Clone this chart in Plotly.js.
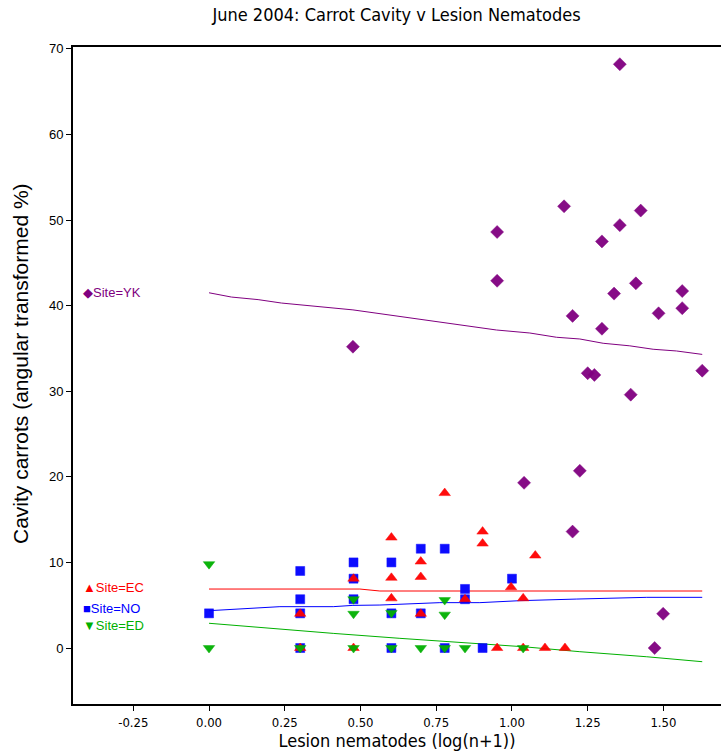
<!DOCTYPE html>
<html>
<head>
<meta charset="utf-8">
<script src="https://cdn.plot.ly/plotly-3.0.1.min.js"></script>
<style>html,body{margin:0;padding:0;background:#fff;}#chart{width:721px;height:751px;}</style>
</head>
<body>
<div id="chart"></div>
<script>
// ---- data ----
const ykX = [1.356,1.172,1.425,1.356,0.951,1.297,0.951,1.409,1.337,1.562,1.562,1.200,1.484,1.297,1.250,1.272,1.628,1.392,0.475,1.224,1.040,1.200,1.499,1.471];
const ykY = [68.2,51.6,51.1,49.4,48.6,47.5,42.9,42.6,41.4,41.7,39.7,38.8,39.1,37.3,32.1,31.9,32.4,29.6,35.2,20.7,19.3,13.6,4.0,0];

const ecX = [0.301,0.301,0.477,0.477,0.602,0.602,0.602,0.699,0.699,0.699,0.778,0.845,0.903,0.903,0.951,0.997,1.037,1.037,1.077,1.109,1.175];
const ecY = [4.0,0,8.1,0,12.9,8.2,5.8,10.1,8.3,4.0,18.1,5.7,13.6,12.2,0,7.1,5.8,0,10.8,0,0];

const noX = [0,0.301,0.301,0.301,0.301,0.477,0.477,0.477,0.602,0.602,0.602,0.699,0.699,0.778,0.778,0.845,0.845,0.903,1.0];
const noY = [4.05,9.0,5.7,4.05,0,10.0,8.1,5.7,10.0,4.05,0,11.6,4.05,11.6,0,6.9,5.7,0,8.1];

const edX = [0,0,0.301,0.477,0.477,0.477,0.602,0.602,0.699,0.778,0.778,0.778,0.845,1.037];
const edY = [9.8,0,0,5.7,4.0,0,4.1,0,0,5.6,3.9,0,0,0];

// smoothed fit lines
const ykFitX = [0,0.074,0.162,0.239,0.475,0.762,0.949,1.059,1.147,1.224,1.301,1.389,1.466,1.543,1.628];
const ykFitY = [41.5,41.0,40.7,40.3,39.5,38.05,37.15,36.8,36.3,36.1,35.6,35.3,34.9,34.7,34.3];
const ecFitX = [0,0.498,0.564,1.628];
const ecFitY = [6.89,6.89,6.66,6.66];
const noFitX = [0,0.124,0.234,0.41,0.475,0.564,0.762,0.894,1.026,1.214,1.445,1.628];
const noFitY = [4.36,4.59,4.83,4.83,4.98,5.02,5.3,5.3,5.53,5.72,5.92,5.92];
const edFitX = [0,0.234,0.41,0.630,0.784,1.037,1.224,1.445,1.628];
const edFitY = [2.89,2.18,1.71,1.13,0.74,0.15,-0.43,-1.02,-1.60];

const xTicks = [-0.25,0,0.25,0.5,0.75,1.0,1.25,1.5];
const xTickText = ['-0.25','0.00','0.25','0.50','0.75','1.00','1.25','1.50'];
const yTicks = [0,10,20,30,40,50,60,70];

const siteLabels = ['Site=YK','Site=EC','Site=NO','Site=ED'];
const siteGlyphs = ['\u25C6','\u25B2','\u25A0','\u25BC'];

// ---- styles ----
const cPurple = '#800080', cRed = '#ff0000', cBlue = '#0000ff', cGreen = '#00b000';
const narrow = '"Liberation Sans Narrow", "Arial Narrow", "DejaVu Sans Condensed", sans-serif';
const regular = '"Liberation Sans", Arial, sans-serif';

function fit(x, y, c) {
  return {x: x, y: y, mode: 'lines', type: 'scatter', line: {color: c, width: 1}, hoverinfo: 'skip', showlegend: false};
}
function pts(x, y, c, sym, size) {
  return {x: x, y: y, mode: 'markers', type: 'scatter', showlegend: false,
    marker: {color: c, symbol: sym, size: size, opacity: 0.95, line: {color: c, width: 0.5}}};
}

const traces = [
  fit(ykFitX, ykFitY, cPurple),
  fit(ecFitX, ecFitY, cRed),
  fit(noFitX, noFitY, cBlue),
  fit(edFitX, edFitY, cGreen),
  pts(noX, noY, cBlue, 'square', 9),
  pts(ecX, ecY, cRed, 'triangle-up', 10),
  pts(edX, edY, cGreen, 'triangle-down', 10),
  pts(ykX, ykY, cPurple, 'diamond', 10)
];

// legend-label placement (paper coords)
const labelPos = [
  {x: 0.012, y: 0.6256, c: cPurple},
  {x: 0.012, y: 0.1773, c: cRed},
  {x: 0.012, y: 0.1454, c: cBlue},
  {x: 0.012, y: 0.1195, c: cGreen}
];
const annotations = siteLabels.map((t, i) => ({
  xref: 'paper', yref: 'paper', x: labelPos[i].x, y: labelPos[i].y,
  xanchor: 'left', yanchor: 'middle', showarrow: false,
  text: siteGlyphs[i] + t,
  font: {family: regular, size: 13, color: labelPos[i].c}
}));
// y-axis title placed as rotated annotation
annotations.push({
  xref: 'paper', yref: 'paper', x: -0.0818, y: 0.519,
  xanchor: 'center', yanchor: 'middle', showarrow: false, textangle: -90,
  text: 'Cavity carrots (angular transformed %)',
  font: {family: regular, size: 21, color: '#000'}
});

const layout = {
  width: 721, height: 751,
  margin: {l: 73, r: 0, t: 47, b: 47},
  paper_bgcolor: '#fff', plot_bgcolor: '#fff',
  title: {text: 'June 2004: Carrot Cavity v Lesion Nematodes', x: 0.55, xanchor: 'center', y: 0.98, yanchor: 'middle',
    font: {family: narrow, size: 18, color: '#000'}},
  xaxis: {
    range: [-0.449, 1.690], tickvals: xTicks, ticktext: xTickText,
    ticks: 'outside', ticklen: 5, tickwidth: 1, tickcolor: '#000',
    showline: true, linecolor: '#000', linewidth: 2, mirror: true,
    showgrid: false, zeroline: false, automargin: false,
    tickfont: {family: narrow, size: 13, color: '#000'},
    title: {text: 'Lesion nematodes (log(n+1))', standoff: 2, font: {family: narrow, size: 18, color: '#000'}}
  },
  yaxis: {
    range: [-6.54, 70.21], tickvals: yTicks,
    ticks: 'outside', ticklen: 5, tickwidth: 1, tickcolor: '#000',
    showline: true, linecolor: '#000', linewidth: 2, mirror: true,
    showgrid: false, zeroline: false, automargin: false,
    tickfont: {family: regular, size: 13, color: '#000'}
  },
  annotations: annotations,
  showlegend: false
};

Plotly.newPlot('chart', traces, layout, {displayModeBar: false, staticPlot: true});
</script>
</body>
</html>
